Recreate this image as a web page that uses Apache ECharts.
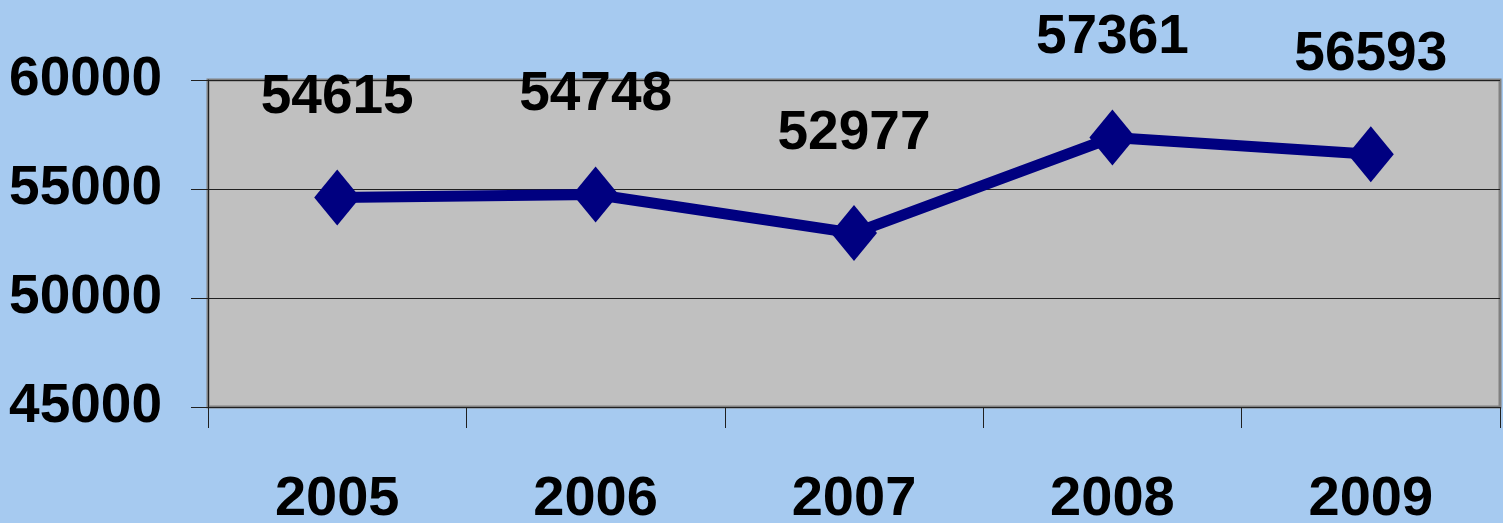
<!DOCTYPE html>
<html>
<head>
<meta charset="utf-8">
<script src="https://cdn.jsdelivr.net/npm/echarts@6/dist/echarts.min.js"></script>
<style>
  html, body { margin: 0; padding: 0; background: #A6CAF0; }
  #chart { width: 1503px; height: 523px; }
</style>
</head>
<body>
<div id="chart"></div>
<script>
var years = ['2005', '2006', '2007', '2008', '2009'];
var values = [54615, 54748, 52977, 57361, 56593];

var fontFam = "'Liberation Sans', Arial, sans-serif";

var chart = echarts.init(document.getElementById('chart'));

var option = {
    backgroundColor: '#A6CAF0',
    animation: false,
    grid: {
        left: 208,
        right: 3,
        top: 80,
        bottom: 116,
        containLabel: false,
        outerBoundsMode: 'none',
        show: true,
        backgroundColor: '#C0C0C0',
        borderColor: '#808080',
        borderWidth: 3
    },
    xAxis: {
        type: 'category',
        data: years,
        boundaryGap: true,
        axisLine: { lineStyle: { color: '#202020', width: 1 } },
        axisTick: { show: true, length: 21, lineStyle: { color: '#202020' } },
        axisLabel: {
            margin: 65,
            color: '#000',
            fontFamily: fontFam,
            fontWeight: 'bold',
            fontSize: 56
        }
    },
    yAxis: {
        type: 'value',
        min: 45000,
        max: 60000,
        interval: 5000,
        axisLine: { show: true, lineStyle: { color: '#202020', width: 1 } },
        axisTick: { show: true, length: 17, lineStyle: { color: '#202020' } },
        splitLine: { lineStyle: { color: '#202020', width: 1 } },
        axisLabel: {
            margin: 46,
            color: '#000',
            fontFamily: fontFam,
            fontWeight: 'bold',
            fontSize: 55,
            padding: [0, 0, 14, 0],
            formatter: function (v) { return String(v); }
        }
    },
    series: [{
        type: 'line',
        data: values,
        symbol: 'diamond',
        symbolSize: [46, 56],
        itemStyle: { color: '#000080' },
        lineStyle: { color: '#000080', width: 11 },
        label: {
            show: true,
            position: 'top',
            distance: 44,
            color: '#000',
            fontFamily: fontFam,
            fontWeight: 'bold',
            fontSize: 55
        }
    }]
};

chart.setOption(option);
</script>
</body>
</html>
